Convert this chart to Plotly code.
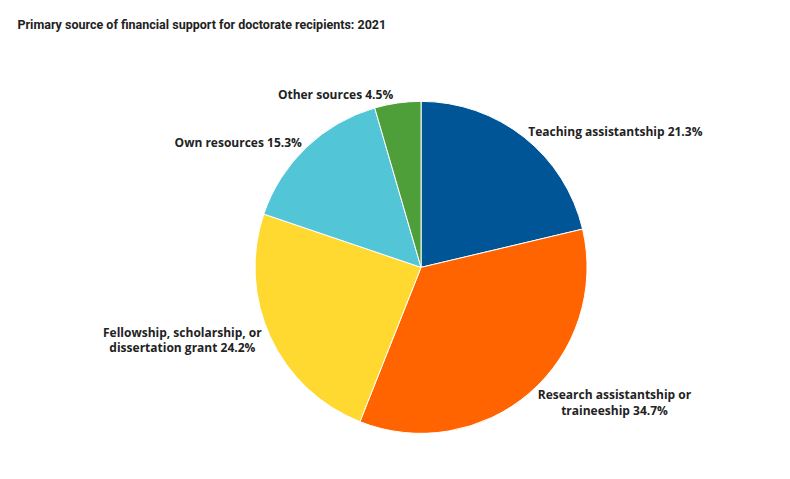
import plotly.graph_objects as go

labels = ["Teaching assistantship", "Research assistantship or<br>traineeship",
          "Fellowship, scholarship, or<br>dissertation grant", "Own resources", "Other sources"]
values = [21.3, 34.7, 24.2, 15.3, 4.5]
colors = ["#005596", "#ff6400", "#ffd92f", "#52c5d6", "#4e9e3a"]

fig = go.Figure(go.Pie(
    labels=labels, values=values, sort=False, direction="clockwise", rotation=0,
    marker=dict(colors=colors, line=dict(color="white", width=1)),
    textposition="outside", texttemplate="<b>%{label} %{value}%</b>",
    textfont=dict(family="Open Sans", size=12, color="#222"),
    hoverinfo="label+value", showlegend=False,
    domain=dict(x=[0.079, 0.903], y=[0.036, 0.912]),
))
fig.update_layout(
    width=790, height=479, margin=dict(t=60, b=40, l=20, r=20),
    paper_bgcolor="white",
    title=dict(text="<b>Primary source of financial support for doctorate recipients: 2021</b>",
               x=0.012, xanchor="left", y=0.975, yanchor="top",
               font=dict(family="Roboto", size=12.5, color="#222")),
)
fig.write_html("out.html")
